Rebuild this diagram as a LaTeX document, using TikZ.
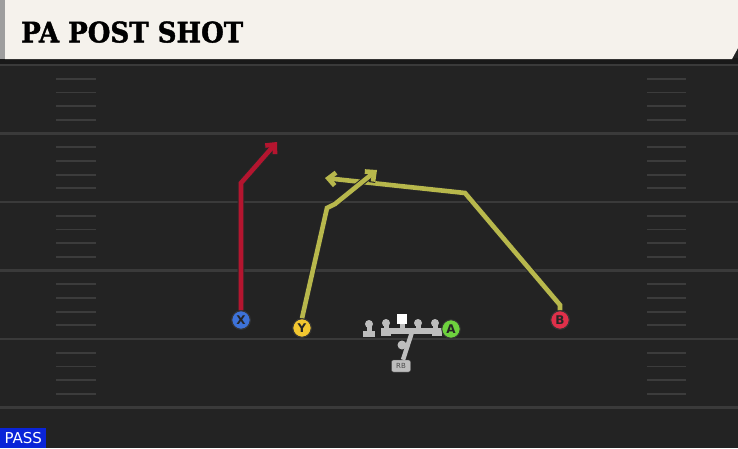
\documentclass[tikz,border=0pt]{standalone}
\usepackage{fontspec}
\setmainfont{DejaVu Serif}
\newfontfamily\titlefont[FakeBold=1.6]{DejaVu Serif}
\newfontfamily\passfont{DejaVu Sans}
\usetikzlibrary{arrows.meta}
\definecolor{field}{HTML}{232323}
\definecolor{yardline}{HTML}{3A3A3A}
\definecolor{hashc}{HTML}{3C3C3C}
\definecolor{cream}{HTML}{F5F2EC}
\definecolor{routered}{HTML}{B4152F}
\definecolor{routeyel}{HTML}{B8B84C}
\definecolor{pblue}{HTML}{3D72D8}
\definecolor{pyel}{HTML}{F2C730}
\definecolor{pgreen}{HTML}{6ED23E}
\definecolor{pred}{HTML}{E0304A}
\definecolor{olgray}{HTML}{BDBDBD}
\definecolor{passblue}{HTML}{0A24D8}
\tikzset{
  player/.style={circle,draw=black!80,line width=1pt,minimum size=18.5pt,inner sep=0pt,
    font=\passfont\bfseries\fontsize{12}{12}\selectfont,text=black!85},
  routeline/.style={line width=4.6pt,line join=miter,
    preaction={draw=black!85,line width=6.6pt}},
  tip/.style={-{Straight Barb[length=7pt,width=13pt]}},
  olpart/.style={fill=olgray},
}
\begin{document}
\begin{tikzpicture}[x=1pt,y=-1pt]
\useasboundingbox (0,0) rectangle (738,448);
\fill[field] (0,0) rectangle (738,448);
% yard lines
\foreach \yy in {65,133.5,202,270.5,339,407.5}
  \draw[yardline,line width=2.2pt] (0,\yy) -- (738,\yy);
% hash marks
\foreach \k in {0,...,4}{
  \foreach \j in {1,...,4}{
    \pgfmathsetmacro{\hy}{65+68.5*\k+13.7*\j}
    \draw[hashc,line width=1.8pt] (56,\hy) -- (96,\hy);
    \draw[hashc,line width=1.8pt] (647,\hy) -- (686,\hy);
  }
}
% header
\fill[black!90] (0,58) rectangle (738,64);
\fill[cream] (5,0) -- (738,0) -- (738,48) -- (732,59) -- (5,59) -- cycle;
\fill[black!38] (0,0) rectangle (5,59);
\node[anchor=south west,inner sep=0pt] (title) at (21,43)
  {\resizebox{222pt}{21pt}{\titlefont\bfseries PA POST SHOT}};
% offensive line
\fill[olpart] (381,328) rectangle (442,334);
\foreach \ox in {386,418,435}{
  \fill[olpart] (\ox,323) circle (4pt);
  \fill[olpart] (\ox-2.5,323) rectangle (\ox+2.5,330);
}
\fill[olpart] (381,329) rectangle (391,336);
\fill[olpart] (432,329) rectangle (442,336);
\fill[olpart] (369,324) circle (4pt);
\fill[olpart] (366.5,324) rectangle (371.5,333);
\fill[olpart] (363,331) rectangle (375,336.5);
\fill[olpart] (399.5,322) rectangle (404.5,330);
\node[fill=white,minimum size=10pt,inner sep=0pt] (center) at (402,319) {};
% RB
\node[fill=olgray,draw=black!70,rounded corners=2pt,minimum width=19pt,minimum height=12pt,
  inner sep=0pt,font=\passfont\fontsize{7}{7}\selectfont,text=black!70] (rb) at (401,366) {RB};
\coordinate (rbblk) at (412,332);
\draw[olgray,line width=4.5pt] (rb.north) ++(2,0) -- (rbblk);
\node[circle,fill=olgray,minimum size=9pt,inner sep=0pt] (qb) at (402,345) {};
% routes
\coordinate (xbreak) at (241,183);
\coordinate (xend) at (277,142);
\coordinate (ybreak1) at (327,208);
\coordinate (ybreak2) at (335,204);
\coordinate (yend) at (377,170);
\coordinate (bstem) at (560,305);
\coordinate (bbreak) at (465,193);
\coordinate (bend) at (325,178);
\node[player,fill=pblue] (X) at (241,320) {X};
\node[player,fill=pyel] (Y) at (302,328) {Y};
\node[player,fill=pgreen] (A) at (451,329) {A};
\node[player,fill=pred] (B) at (560,320) {B};
\draw[routeline,routered,tip] (X.north) -- (xbreak) -- (xend);
\draw[routeline,routeyel,tip] (B.north) -- (bstem) -- (bbreak) -- (bend);
\draw[routeline,routeyel,tip] (Y.north) -- (ybreak1) -- (ybreak2) -- (yend);
\node[player,fill=pblue] at (X) {X};
\node[player,fill=pyel] at (Y) {Y};
\node[player,fill=pred] at (B) {B};
% PASS tag
\node[fill=passblue,text=white,anchor=south west,minimum width=46pt,minimum height=20pt,
  inner sep=0pt,font=\passfont\fontsize{15}{15}\selectfont] (pass) at (0,448) {PASS};
\end{tikzpicture}
\end{document}
